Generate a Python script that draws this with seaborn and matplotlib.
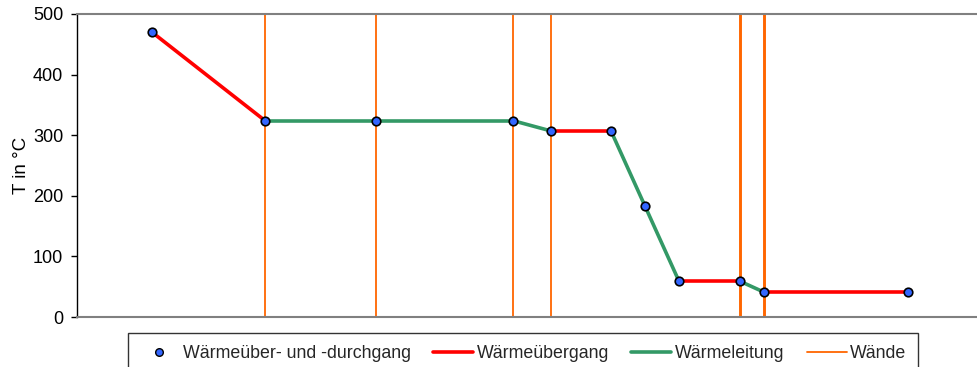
import matplotlib
matplotlib.use("Agg")
import matplotlib.pyplot as plt
from matplotlib.lines import Line2D
import seaborn as sns
import pandas as pd

# Position along the wall layers (arbitrary length units) and temperature in °C
positions = [75, 188, 299, 436, 474, 534, 568, 602, 663, 687, 831]
temperatures = [470, 324, 324, 324, 307, 307, 183, 59, 59, 41, 41]
# Segment kind between consecutive points: "ue" = Wärmeübergang, "le" = Wärmeleitung
segment_kinds = ["ue", "le", "le", "le", "ue", "le", "le", "ue", "le", "ue"]
wall_positions = [188, 299, 436, 474, 663, 687]
wall_widths = [1.3, 1.3, 1.3, 1.3, 2.1, 2.1]

legend_labels = ["Wärmeüber- und -durchgang", "Wärmeübergang", "Wärmeleitung", "Wände"]

RED = "#FF0000"
GREEN = "#339966"
ORANGE = "#FF6600"
BLUE = "#3366FF"

sns.set_theme(style="white")
plt.rcParams["font.family"] = ["Liberation Sans", "DejaVu Sans"]

fig = plt.figure(figsize=(9.77, 3.67), dpi=100)
ax = fig.add_axes([77 / 977, 50 / 367, 900 / 977, 303 / 367])

for x, w in zip(wall_positions, wall_widths):
    ax.axvline(x, color=ORANGE, lw=w, zorder=1)

for i, kind in enumerate(segment_kinds):
    seg = pd.DataFrame({"x": positions[i:i + 2], "T": temperatures[i:i + 2]})
    sns.lineplot(data=seg, x="x", y="T", ax=ax, sort=False,
                 color=RED if kind == "ue" else GREEN, lw=2.6, zorder=2,
                 solid_capstyle="butt")

pts = pd.DataFrame({"x": positions, "T": temperatures})
sns.scatterplot(data=pts, x="x", y="T", ax=ax, color=BLUE, edgecolor="black",
                linewidth=1.2, s=38, zorder=3)

ax.set_xlim(0, 900)
ax.set_ylim(0, 500)
ax.set_yticks([0, 100, 200, 300, 400, 500])
ax.set_xticks([])
ax.set_xlabel("")
ax.set_ylabel("T in °C", fontsize=13.5, color="black", labelpad=2)
ax.tick_params(axis="y", direction="out", length=4.5, width=1, color="black",
               labelsize=13, labelcolor="black", pad=5.5, left=True)

for side in ["top", "bottom"]:
    ax.spines[side].set_visible(True)
    ax.spines[side].set_color("#808080")
    ax.spines[side].set_linewidth(1.5)
ax.spines["left"].set_color("black")
ax.spines["left"].set_linewidth(1.0)
ax.spines["right"].set_visible(False)
ax.grid(False)

handles = [
    Line2D([], [], ls="none", marker="o", markersize=5.5, markerfacecolor=BLUE,
           markeredgecolor="black", markeredgewidth=1.0),
    Line2D([], [], color=RED, lw=2.6),
    Line2D([], [], color=GREEN, lw=2.6),
    Line2D([], [], color=ORANGE, lw=1.3),
]
leg = fig.legend(handles, legend_labels, ncol=4, loc="upper center",
                 bbox_to_anchor=(523 / 977, 34 / 367), fontsize=12.8,
                 frameon=True, fancybox=False, edgecolor="black",
                 handlelength=2.25, handletextpad=0.2, columnspacing=1.25,
                 borderpad=0.67, borderaxespad=0.0)
leg.get_frame().set_linewidth(1.0)

fig.savefig("out.png", dpi=100)
